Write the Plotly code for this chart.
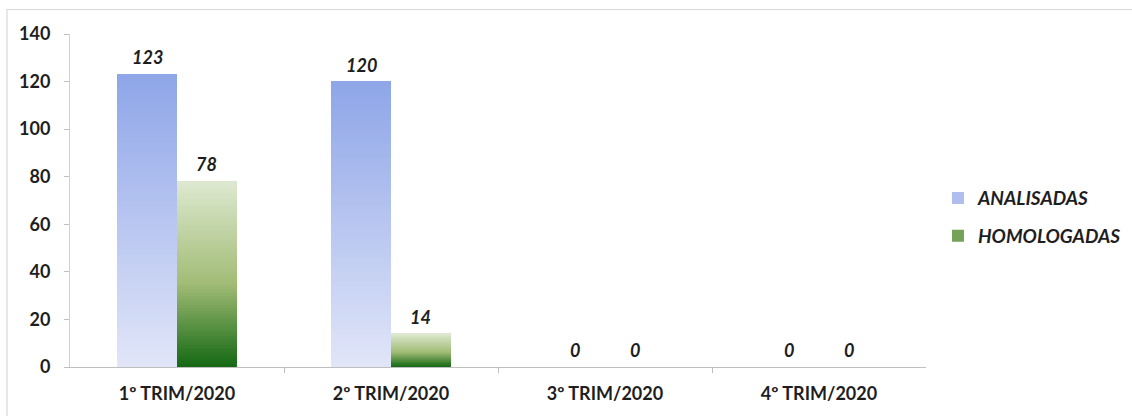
import plotly.graph_objects as go

categories = ["1º TRIM/2020", "2º TRIM/2020", "3º TRIM/2020", "4º TRIM/2020"]
analisadas = [123, 120, 0, 0]
homologadas = [78, 14, 0, 0]
series_names = ["ANALISADAS", "HOMOLOGADAS"]
y_ticks = [0, 20, 40, 60, 80, 100, 120, 140]

FONT = "Lato"
TXT = "#1e1e1e"
N = 60
BAR_W = 0.28


def hex2rgb(h):
    h = h.lstrip("#")
    return tuple(int(h[i:i + 2], 16) for i in (0, 2, 4))


def interp(stops, t):
    for (p0, c0), (p1, c1) in zip(stops[:-1], stops[1:]):
        if p0 <= t <= p1:
            f = 0 if p1 == p0 else (t - p0) / (p1 - p0)
            a, b = hex2rgb(c0), hex2rgb(c1)
            r = [round(a[i] + (b[i] - a[i]) * f) for i in range(3)]
            return "rgb(%d,%d,%d)" % tuple(r)
    return stops[-1][1]


blue_stops = [(0.0, "#e1e6f8"), (1.0, "#8ea5e8")]
green_stops = [(0.0, "#136813"), (0.45, "#a2bc76"), (1.0, "#dde9d0")]

x_pos = list(range(len(categories)))

fig = go.Figure()

for name, vals, stops, offset, legend_t in [
    (series_names[0], analisadas, blue_stops, -BAR_W, 0.6),
    (series_names[1], homologadas, green_stops, 0.0, 0.3),
]:
    legend_k = int(legend_t * N)
    for k in range(N):
        t = (k + 0.5) / N
        base = [v * k / N for v in vals]
        height = [v - b for v, b in zip(vals, base)]
        fig.add_trace(go.Bar(
            x=x_pos, y=height, base=base,
            width=BAR_W, offset=offset,
            marker=dict(color=interp(stops, t), line=dict(width=0)),
            name=name, legendgroup=name,
            showlegend=(k == legend_k),
            hoverinfo="skip",
        ))

# data labels
for vals, dx in [(analisadas, -BAR_W / 2), (homologadas, BAR_W / 2)]:
    for i, v in enumerate(vals):
        fig.add_annotation(
            x=x_pos[i] + dx, y=v, xref="x", yref="y",
            text="<b><i>%d</i></b>" % v, showarrow=False,
            yanchor="bottom", yshift=4,
            font=dict(family=FONT, size=18, color=TXT),
        )

L, R, T, B = 70, 206, 34, 49
W, H = 1132, 416
pw, ph = W - L - R, H - T - B
bx = (7 - L) / pw
by = (ph + T - 9.5) / ph
fig.add_shape(type="rect", xref="paper", yref="paper",
              x0=bx, x1=1.5, y0=-0.5, y1=by,
              line=dict(color="#d9d9d9", width=1.2), fillcolor="rgba(0,0,0,0)",
              layer="below")

fig.update_layout(
    width=W, height=H,
    margin=dict(l=L, r=R, t=T, b=B, autoexpand=False),
    paper_bgcolor="white", plot_bgcolor="white",
    barmode="overlay",
    font=dict(family=FONT, color=TXT, size=18),
    showlegend=True,
    legend=dict(
        x=1.014, xanchor="left", y=0.45, yanchor="middle",
        traceorder="grouped", tracegroupgap=10,
        font=dict(family=FONT, size=19, color=TXT, weight="bold", style="italic"),
        bgcolor="rgba(0,0,0,0)",
    ),
    xaxis=dict(
        range=[-0.5, 3.5],
        tickmode="array", tickvals=x_pos, ticktext=categories,
        ticks="", ticklabelstandoff=10, automargin=False,
        tickfont=dict(family=FONT, size=18, color=TXT, weight="bold"),
        showline=True, linecolor="#bfbfbf", linewidth=1,
        showgrid=False, zeroline=False,
        minor=dict(tickmode="array", tickvals=[0.5, 1.5, 2.5],
                   ticks="outside", ticklen=5, tickcolor="#bfbfbf", showgrid=False),
        fixedrange=True,
    ),
    yaxis=dict(
        range=[0, 140],
        tickmode="array", tickvals=y_ticks,
        ticks="outside", ticklen=5, tickcolor="#bfbfbf",
        ticklabelstandoff=10, automargin=False,
        tickfont=dict(family=FONT, size=18, color=TXT, weight="bold"),
        showline=True, linecolor="#d0d0d0", linewidth=1,
        showgrid=False, zeroline=False,
        fixedrange=True,
    ),
)

fig.write_html("out.html")
